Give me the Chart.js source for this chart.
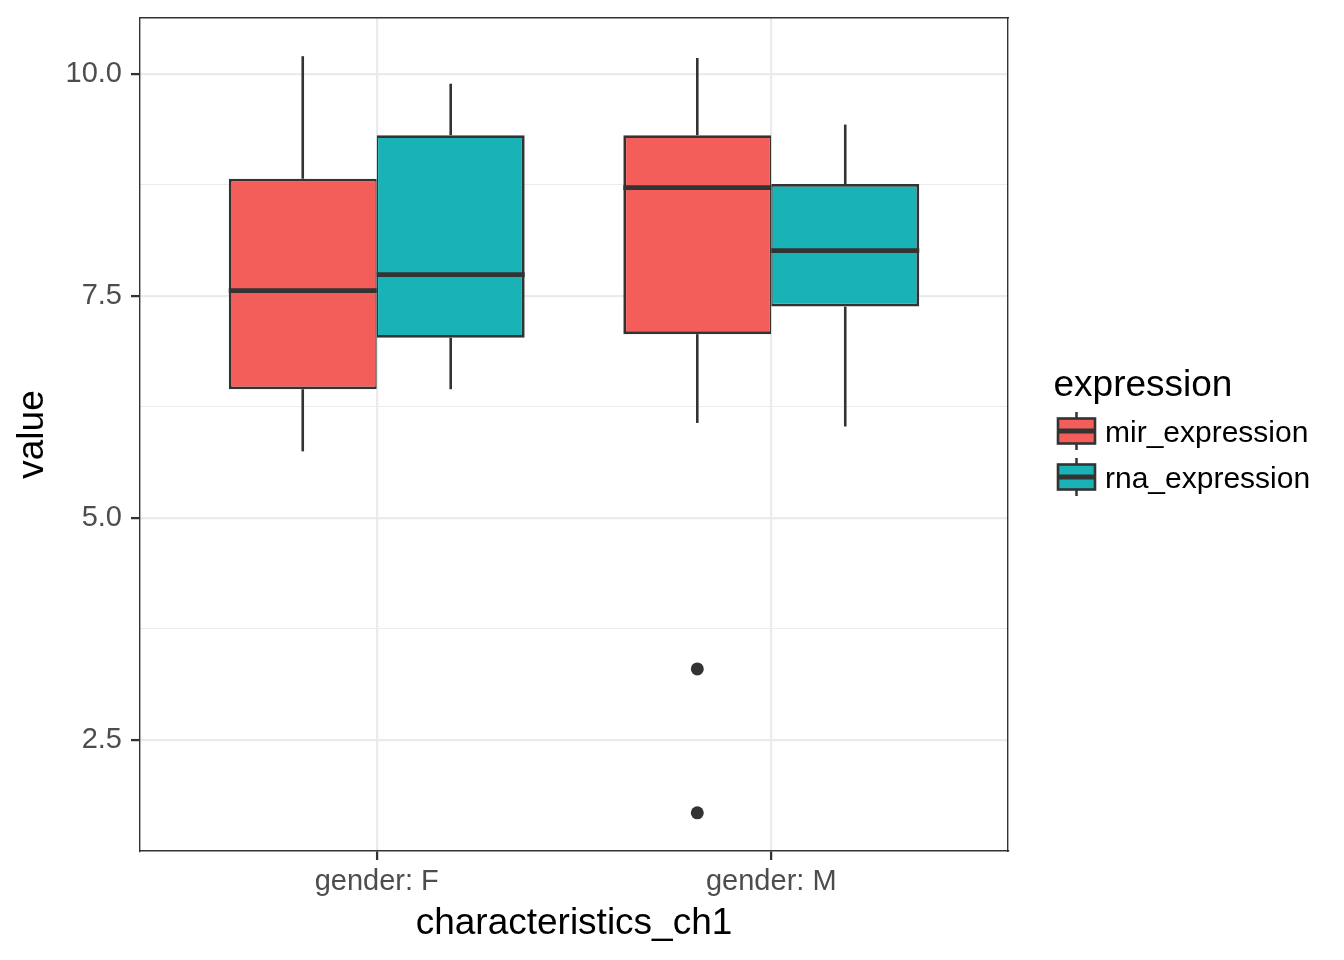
<!DOCTYPE html>
<html>
<head>
<meta charset="utf-8">
<title>value by characteristics_ch1</title>
<script src="https://cdn.jsdelivr.net/npm/chart.js@4.4.1/dist/chart.umd.min.js"></script>
<style>
  html, body { margin: 0; padding: 0; background: #ffffff; overflow: hidden; }
  #chart { display: block; }
</style>
</head>
<body>
<canvas id="chart" width="1344" height="960"></canvas>
<script>
const categories = ["gender: F", "gender: M"];
const seriesNames = ["mir_expression", "rna_expression"];

// box stats, one value per category (F, M)
const mirLow = [5.75, 6.07];
const mirQ1 = [6.45, 7.07];
const mirMedian = [7.56, 8.72];
const mirQ3 = [8.82, 9.31];
const mirHigh = [10.20, 10.18];

const rnaLow = [6.45, 6.03];
const rnaQ1 = [7.03, 7.38];
const rnaMedian = [7.74, 8.01];
const rnaQ3 = [9.31, 8.76];
const rnaHigh = [9.89, 9.43];

// outliers (all in mir_expression)
const outlierCategory = ["gender: M", "gender: M"];
const outlierValues = [3.30, 1.68];

const yMajorTicks = [2.5, 5.0, 7.5, 10.0];
const yMinorTicks = [3.75, 6.25, 8.75];
const yMin = 1.25;
const yMax = 10.63;

// styling
const fillColors = ["#F35E5A", "#19B3B7"];
const lineColor = "#333333";
const gridColor = "#EBEBEB";
const tickTextColor = "#4D4D4D";
const fontFamily = "'Liberation Sans', Arial, Helvetica, sans-serif";
const groupWidth = 0.75;
const xPad = 0.6; // discrete axis expansion on each side

const points = (a, b) => categories.map((c, i) => ({ x: i, y: [a[i], b[i]] }));
const isMajor = (v) => yMajorTicks.includes(v);
// half of one box's width in pixels, taken from the x scale
const halfBox = (c) => {
    const x = c.chart.scales.x;
    return Math.abs(x.getPixelForValue(groupWidth / 4) - x.getPixelForValue(0));
};

function boxDatasets(name, stack, color, low, q1, med, q3, high, side) {
    const sign = side === "left" ? -1 : 1;
    const lr = side === "left" ? { left: 2.8, right: 1.4 } : { left: 1.4, right: 2.8 };
    const whisker = {
        type: "bar",
        label: name + " whisker",
        stack: stack,
        backgroundColor: lineColor,
        borderWidth: 0,
        inflateAmount: 0,
        maxBarThickness: 2.6,
        categoryPercentage: groupWidth,
        barPercentage: 1.0
    };
    return {
        median: {
            type: "scatter",
            label: name + " median",
            data: categories.map((c, i) => ({ x: i + sign * groupWidth / 4, y: med[i] })),
            pointStyle: "line",
            pointRadius: halfBox,
            pointBorderWidth: 4.7,
            pointBorderColor: lineColor
        },
        box: {
            type: "bar",
            label: name,
            stack: stack,
            data: points(q1, q3),
            backgroundColor: color,
            borderColor: lineColor,
            borderWidth: { ...lr, top: 2.8, bottom: 2.8 },
            borderSkipped: false,
            inflateAmount: 0,
            categoryPercentage: groupWidth,
            barPercentage: 1.0
        },
        whiskers: [
            { ...whisker, data: points(q3, high) },
            { ...whisker, data: points(low, q1) }
        ]
    };
}

const mir = boxDatasets(seriesNames[0], "mir", fillColors[0], mirLow, mirQ1, mirMedian, mirQ3, mirHigh, "left");
const rna = boxDatasets(seriesNames[1], "rna", fillColors[1], rnaLow, rnaQ1, rnaMedian, rnaQ3, rnaHigh, "right");

// outliers shifted into the mir slot of their category
const outlierPoints = outlierValues.map((v, i) => ({
    x: categories.indexOf(outlierCategory[i]) - groupWidth / 4,
    y: v
}));

const boxLegend = {
    id: "boxLegend",
    afterDraw(chart) {
        const { ctx, chartArea } = chart;
        const keyLeft = chartArea.right + 50;
        const mid = (chartArea.top + chartArea.bottom) / 2;

        ctx.save();
        ctx.textBaseline = "alphabetic";
        ctx.textAlign = "left";
        ctx.fillStyle = "#000000";
        ctx.font = `37px ${fontFamily}`;
        ctx.fillText("expression", keyLeft - 4.5, mid - 39);

        seriesNames.forEach((name, i) => {
            const cy = mid - 3.5 + i * 46;
            ctx.strokeStyle = lineColor;
            ctx.lineWidth = 2.5;
            ctx.beginPath();
            ctx.moveTo(keyLeft + 18.5, cy - 19);
            ctx.lineTo(keyLeft + 18.5, cy + 19);
            ctx.stroke();

            ctx.fillStyle = fillColors[i];
            ctx.fillRect(keyLeft, cy - 12.5, 37, 25);
            ctx.lineWidth = 2.6;
            ctx.strokeRect(keyLeft, cy - 12.5, 37, 25);
            ctx.lineWidth = 5;
            ctx.beginPath();
            ctx.moveTo(keyLeft, cy);
            ctx.lineTo(keyLeft + 37, cy);
            ctx.stroke();

            ctx.fillStyle = "#000000";
            ctx.font = `30px ${fontFamily}`;
            ctx.fillText(name, keyLeft + 47, cy + 11);
        });
        ctx.restore();
    }
};

new Chart(document.getElementById("chart"), {
    type: "bar",
    data: {
        datasets: [
            mir.median, rna.median,
            mir.box, rna.box,
            ...mir.whiskers, ...rna.whiskers,
            {
                type: "scatter",
                label: "outliers",
                data: outlierPoints,
                pointRadius: 6.5,
                pointBackgroundColor: lineColor,
                pointBorderWidth: 0
            }
        ]
    },
    options: {
        responsive: false,
        animation: false,
        events: [],
        layout: { padding: { top: 18, right: 336, bottom: 0, left: 0 } },
        plugins: {
            legend: { display: false },
            tooltip: { enabled: false }
        },
        scales: {
            x: {
                type: "linear",
                min: -xPad,
                max: categories.length - 1 + xPad,
                offset: false,
                afterBuildTicks: (axis) => {
                    axis.ticks = categories.map((c, i) => ({ value: i }));
                },
                grid: {
                    offset: false,
                    color: gridColor,
                    lineWidth: 2.2,
                    tickColor: lineColor,
                    tickLength: 9,
                    tickWidth: 2.3
                },
                border: { color: lineColor, width: 1.4 },
                ticks: {
                    color: tickTextColor,
                    font: { family: fontFamily, size: 29 },
                    padding: 5,
                    maxRotation: 0,
                    autoSkip: false,
                    callback: (value) => categories[value]
                },
                title: {
                    display: true,
                    text: "characteristics_ch1",
                    color: "#000000",
                    font: { family: fontFamily, size: 37 },
                    padding: { top: 0, bottom: 14 }
                },
                afterFit: (axis) => {
                    axis.height = 109;
                    axis.paddingLeft = 0;
                    axis.paddingRight = 0;
                }
            },
            xTop: {
                type: "linear",
                axis: "x",
                position: "top",
                min: -xPad,
                max: categories.length - 1 + xPad,
                grid: { display: false, drawTicks: false },
                ticks: { display: false },
                border: { color: lineColor, width: 1.4 }
            },
            y: {
                type: "linear",
                min: yMin,
                max: yMax,
                bounds: "data",
                beginAtZero: false,
                stacked: false,
                afterBuildTicks: (axis) => {
                    axis.ticks = [...yMajorTicks, ...yMinorTicks]
                        .sort((a, b) => a - b)
                        .map((value) => ({ value }));
                },
                grid: {
                    color: gridColor,
                    lineWidth: (c) => isMajor(c.tick.value) ? 2.2 : 1.1,
                    tickColor: (c) => isMajor(c.tick.value) ? lineColor : "rgba(0,0,0,0)",
                    tickWidth: (c) => isMajor(c.tick.value) ? 2.3 : 0,
                    tickLength: 9
                },
                border: { color: lineColor, width: 1.4 },
                ticks: {
                    color: tickTextColor,
                    font: { family: fontFamily, size: 29 },
                    padding: 9,
                    callback: (value) => isMajor(value) ? value.toFixed(1) : ""
                },
                title: {
                    display: true,
                    text: "value",
                    color: "#000000",
                    font: { family: fontFamily, size: 37 },
                    padding: { top: 11, bottom: 0 }
                },
                afterFit: (axis) => {
                    axis.width = 140;
                    axis.paddingTop = 0;
                    axis.paddingBottom = 0;
                }
            },
            yRight: {
                type: "linear",
                axis: "y",
                position: "right",
                min: yMin,
                max: yMax,
                beginAtZero: false,
                grid: { display: false, drawTicks: false },
                ticks: { display: false },
                border: { color: lineColor, width: 1.4 }
            }
        }
    },
    plugins: [boxLegend]
});
</script>
</body>
</html>
